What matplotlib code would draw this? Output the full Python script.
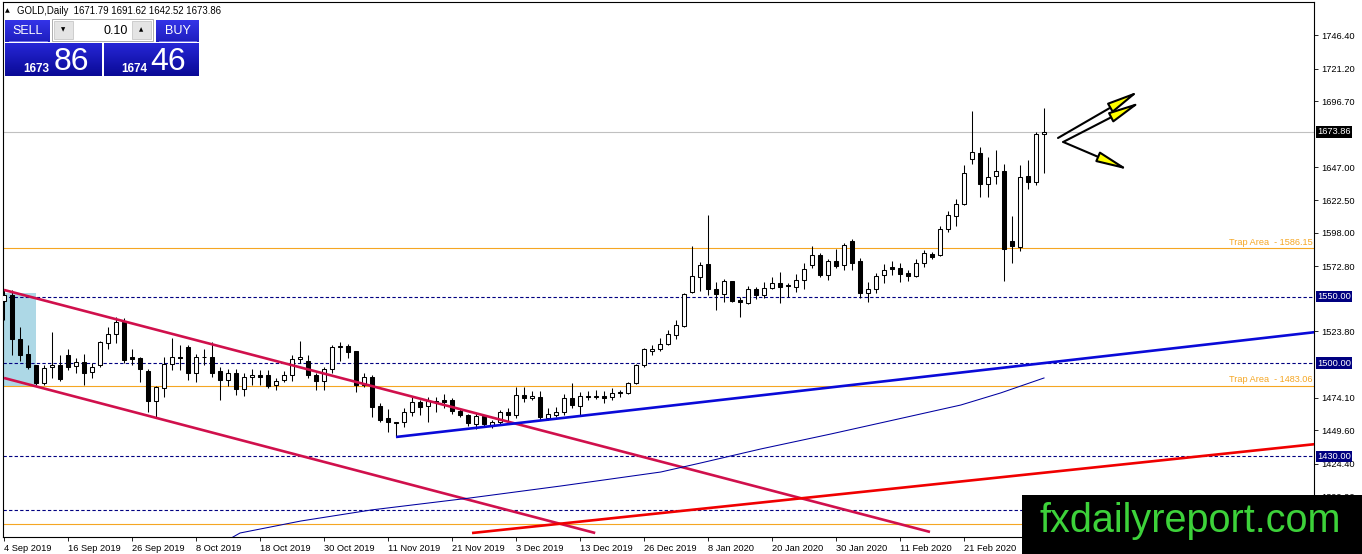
import numpy as np
import matplotlib
matplotlib.use('Agg')
import matplotlib.pyplot as plt
from matplotlib.patches import Rectangle, FancyArrowPatch
from matplotlib.colors import LinearSegmentedColormap
from matplotlib.transforms import blended_transform_factory

plt.rcParams['font.family'] = ['Liberation Sans', 'DejaVu Sans']

# velas diarias GOLD, 4 Sep 2019 - 6 Mar 2020 (una por indice)
opens = [1546.5, 1551, 1518, 1507, 1498.5, 1485, 1497, 1498.5, 1506, 1498,
         1501, 1493.5, 1498.5, 1515.5, 1522, 1531, 1504.5, 1504, 1494, 1471.5,
         1481.5, 1499.5, 1505, 1512, 1493, 1505, 1505, 1494, 1487.5, 1492.5,
         1480.5, 1489.5, 1491, 1491, 1483.5, 1487.5, 1491, 1503.5, 1502, 1491,
         1486.5, 1495.5, 1512.5, 1513, 1509, 1483.5, 1489.5, 1468, 1459, 1455.5,
         1455.5, 1463, 1471, 1467.5, 1471.5, 1472, 1472.5, 1464, 1461, 1454,
         1460, 1453, 1456, 1463.5, 1461, 1476, 1474, 1474.5, 1459, 1461,
         1463.5, 1474, 1468, 1475, 1474.5, 1475, 1474.5, 1478, 1477.5, 1485.5,
         1498.5, 1509.5, 1510.5, 1514.5, 1521, 1528, 1553.5, 1565, 1574.5, 1555.7,
         1552, 1561.5, 1547.5, 1545.5, 1555.5, 1551, 1556.5, 1560, 1558.5, 1557,
         1562.5, 1573.5, 1581.5, 1566.5, 1577, 1574, 1592, 1577, 1552.5, 1555.5,
         1566, 1572, 1571.5, 1568, 1565.5, 1575.5, 1582, 1581.5, 1600.5, 1610.5,
         1619.5, 1653, 1658, 1634.5, 1640.5, 1644.5, 1591.5, 1587.2, 1640.5, 1636,
         1671.79]
highs = [1556, 1555, 1527, 1514, 1499, 1498.5, 1523.5, 1506, 1511, 1504,
         1507, 1500, 1517, 1527, 1534.5, 1534, 1511, 1505, 1496, 1483,
         1505, 1519, 1514, 1514, 1507, 1510.5, 1516, 1497, 1496, 1496,
         1493, 1496, 1495, 1495, 1489, 1494, 1506, 1517, 1506, 1493,
         1497, 1514, 1516, 1514.5, 1509.5, 1493, 1491, 1470, 1465.5, 1456,
         1466.5, 1474.5, 1472.5, 1474.5, 1474.5, 1477, 1474, 1466, 1462, 1462.5,
         1461, 1457, 1465, 1466.5, 1482, 1482, 1479, 1479, 1466, 1467,
         1477, 1485.5, 1478, 1479, 1480, 1479, 1481, 1480, 1486, 1499.5,
         1511.5, 1513.5, 1519, 1525, 1532.5, 1553, 1588, 1576, 1611.3, 1561,
         1563, 1562, 1549.5, 1558, 1557.5, 1561, 1565, 1568.5, 1560, 1567,
         1575, 1588, 1582.5, 1578, 1585.5, 1590, 1593, 1579, 1561, 1568,
         1574.5, 1576.5, 1575, 1570, 1578, 1585, 1583.5, 1603, 1614, 1623,
         1649, 1689.3, 1662, 1655, 1660, 1649.5, 1610.8, 1648.8, 1652.6, 1673.6,
         1691.62]
lows = [1532.5, 1506, 1501.5, 1495.5, 1484, 1483.5, 1489, 1487, 1495, 1492.5,
        1483.5, 1489, 1497, 1511, 1515, 1500, 1499, 1486, 1463, 1459.5,
        1474.5, 1495, 1495, 1487.5, 1486, 1498.5, 1489.5, 1472.5, 1483, 1476,
        1475.5, 1483.5, 1484, 1481, 1480, 1486, 1487, 1500, 1489, 1480,
        1480, 1493, 1502, 1504, 1478.5, 1482, 1459.5, 1456, 1448, 1444.6,
        1452, 1460, 1461, 1456, 1463.5, 1466, 1462, 1459.5, 1453, 1450.5,
        1453, 1451.5, 1454.5, 1455, 1459, 1471, 1472.5, 1457.5, 1457.5, 1459.5,
        1461, 1466.5, 1461, 1472, 1473, 1470, 1472, 1474.5, 1477, 1484.5,
        1497.5, 1506, 1509.5, 1513.5, 1518, 1527.5, 1552.5, 1554, 1551, 1540,
        1546, 1546, 1535, 1544.5, 1548.5, 1549, 1555.5, 1545.5, 1550, 1553.5,
        1556, 1571.5, 1564.5, 1562.5, 1571.5, 1570, 1570, 1549, 1546, 1553,
        1560, 1566, 1561, 1562, 1565, 1572, 1578, 1580.5, 1598.5, 1603,
        1619, 1649.5, 1625, 1625, 1634.5, 1561.7, 1575.4, 1584.2, 1630.8, 1633.8,
        1642.52]
closes = [1551, 1518, 1506, 1497.5, 1485, 1496.5, 1499, 1488, 1497.5, 1501,
          1493, 1497, 1516, 1522, 1531, 1502.5, 1503.5, 1495.5, 1471.5, 1482,
          1499.5, 1504.5, 1504, 1493, 1505, 1504.5, 1493, 1487.5, 1492.5, 1480.5,
          1489.5, 1491, 1489.5, 1483, 1486.5, 1491, 1503, 1504.5, 1491, 1486.5,
          1495.5, 1512.5, 1513, 1508.5, 1483.5, 1489.5, 1467, 1457.5, 1455.5, 1455,
          1463, 1471, 1467, 1471.5, 1471, 1470.5, 1464, 1461, 1455, 1460,
          1454, 1455.5, 1463, 1461, 1476, 1474, 1475.5, 1459.5, 1461.5, 1463.5,
          1474, 1468.5, 1475, 1474.5, 1475, 1474, 1477.5, 1477.5, 1485.5, 1498.5,
          1510.5, 1511, 1514.5, 1522, 1528.5, 1552, 1565.5, 1574, 1555.7, 1552,
          1561.5, 1546.7, 1546, 1555.5, 1551.5, 1556.5, 1560, 1557, 1558, 1562.5,
          1570.5, 1581.5, 1566.5, 1577, 1573, 1589, 1575.5, 1552.5, 1555.5, 1565.5,
          1570, 1571, 1567, 1565.5, 1575.5, 1583, 1579.5, 1600.5, 1611, 1619.5,
          1643, 1658.5, 1634.5, 1640, 1644.5, 1585.7, 1588, 1640, 1636, 1672,
          1673.86]

etiquetas_x = ['4 Sep 2019', '16 Sep 2019', '26 Sep 2019', '8 Oct 2019', '18 Oct 2019',
               '30 Oct 2019', '11 Nov 2019', '21 Nov 2019', '3 Dec 2019', '13 Dec 2019',
               '26 Dec 2019', '8 Jan 2020', '20 Jan 2020', '30 Jan 2020', '11 Feb 2020',
               '21 Feb 2020', '4 Mar 2020']
ticks_y = [1746.40, 1721.20, 1696.70, 1647.00, 1622.50, 1598.00, 1572.80,
           1523.80, 1474.10, 1449.60, 1424.40, 1399.90]

# lineas horizontales del grafico
precio_bid = 1673.86
niveles_punteados = [1550.00, 1500.00, 1430.00, 1390.00]
trap_areas = [1586.15, 1483.06, 1379.30]

# objetos dibujados (indice de vela, precio)
canal_sup_x, canal_sup_y = [0, 115.75], [1555.0, 1373.3]
canal_inf_x, canal_inf_y = [0, 73.9], [1488.9, 1372.5]
soporte_x, soporte_y = [49, 164], [1444.6, 1523.4]
roja_x, roja_y = [58.5, 164], [1372.5, 1439.3]
media_x = [27.75, 29.5, 37.1, 45.9, 58.25, 69.6, 82.1, 87.1, 94.6, 103.4, 111.25, 119.6, 124.6, 130]
media_y = [1366.5, 1372.5, 1381.5, 1389.8, 1398.8, 1407.8, 1418.3, 1425.1, 1435.6, 1446.9,
           1457.4, 1468.6, 1477.7, 1488.9]
rect_x, rect_y = [-0.5, 4], [1483.06, 1553.0]
flechas_ini = [(131.75, 1669.1), (132.4, 1666.1), (132.4, 1666.1)]
flechas_fin = [(141.9, 1704.4), (142.1, 1696.1), (140.6, 1645.1)]

W, H = 1362, 554
fig = plt.figure(figsize=(W / 100, H / 100), dpi=100)
fig.patch.set_facecolor('white')


def fx(px):
    return px / W


def fy(py):
    return 1 - py / H


ax = fig.add_axes([fx(2.5), fy(537), fx(1314) - fx(2.5), fy(2) - fy(537)])
ax.set_xlim(-0.19, 163.75)
ax.set_ylim(1369.5, 1771.2)
for s in ax.spines.values():
    s.set_color('black')
    s.set_linewidth(0.8)

# rectangulo celeste
ax.add_patch(Rectangle((rect_x[0], rect_y[0]), rect_x[1] - rect_x[0], rect_y[1] - rect_y[0],
                       facecolor='#ADD8E6', edgecolor='none', zorder=1))

# velas
idx = np.arange(len(opens))
o = np.array(opens)
c = np.array(closes)
ax.vlines(idx, lows, highs, color='black', lw=0.75, zorder=3)
subida = c >= o
ax.bar(idx, np.abs(c - o), bottom=np.minimum(o, c), width=0.62,
       color=np.where(subida, 'white', 'black'), edgecolor='black', linewidth=0.75, zorder=3.2)

# lineas horizontales
ax.axhline(precio_bid, color='#C0C0C0', lw=0.8, zorder=2)
for nv in niveles_punteados:
    ax.axhline(nv, color='#000080', lw=0.8, ls=(0, (3, 2)), zorder=2)
for ta in trap_areas:
    ax.axhline(ta, color='#F5A623', lw=0.8, zorder=2)
# la tercera etiqueta queda tapada por la marca de agua
for ta in trap_areas[:2]:
    ax.text(163.6, ta + 1.2, 'Trap Area  - %.2f' % ta, color='#F5A623', fontsize=6.6,
            ha='right', va='bottom', zorder=2)

# lineas de tendencia
ax.plot(canal_sup_x, canal_sup_y, color='#D0104C', lw=1.9, zorder=4, solid_capstyle='butt')
ax.plot(canal_inf_x, canal_inf_y, color='#D0104C', lw=1.9, zorder=4, solid_capstyle='butt')
ax.plot(soporte_x, soporte_y, color='#0A0AD8', lw=1.9, zorder=4, solid_capstyle='butt')
ax.plot(roja_x, roja_y, color='#F00000', lw=1.9, zorder=4, solid_capstyle='butt')
ax.plot(media_x, media_y, color='#0000A0', lw=0.75, zorder=4)

for a, b in zip(flechas_ini, flechas_fin):
    ax.add_patch(FancyArrowPatch(a, b, arrowstyle='-|>,head_length=1.3,head_width=0.22',
                                 mutation_scale=15, lw=1.5, ec='black', fc='#FFFF00',
                                 shrinkA=0, shrinkB=0, zorder=6))

# ejes
ax.yaxis.tick_right()
ax.set_yticks(ticks_y)
ax.set_yticklabels(['%.2f' % t for t in ticks_y])
ax.set_xticks(np.arange(0, 8 * len(etiquetas_x), 8))
ax.set_xticklabels(etiquetas_x)
for lbl in ax.get_xticklabels():
    lbl.set_ha('left')
ax.tick_params(axis='both', direction='out', length=3, width=0.6, labelsize=6.7, pad=2,
               colors='black')

# etiquetas de precio en el eje
trans = blended_transform_factory(fig.transFigure, ax.transData)
ax.text(fx(1317), precio_bid, '%.2f' % precio_bid, transform=trans, color='white', fontsize=6.7,
        ha='left', va='center', clip_on=False, zorder=7,
        bbox=dict(boxstyle='square,pad=0.15', fc='black', ec='none'))
for nv in niveles_punteados[:3]:
    ax.text(fx(1317), nv, '%.2f' % nv, transform=trans, color='white', fontsize=6.7,
            ha='left', va='center', clip_on=False, zorder=7,
            bbox=dict(boxstyle='square,pad=0.15', fc='#000080', ec='none'))

# cabecera
fig.text(fx(5), fy(11), '\u25b2', fontsize=4.5, va='center', ha='left', family='DejaVu Sans')
fig.text(fx(17), fy(11), 'GOLD,Daily  %.2f %.2f %.2f %.2f' % (opens[-1], highs[-1], lows[-1], closes[-1]),
         fontsize=6.9, va='center', ha='left')


def caja_grad(x0, y0, x1, y1, c_top, c_bot):
    a = fig.add_axes([fx(x0), fy(y1), fx(x1) - fx(x0), fy(y0) - fy(y1)], zorder=5)
    cm = LinearSegmentedColormap.from_list('g', [c_top, c_bot])
    a.imshow(np.linspace(0, 1, 40).reshape(-1, 1), aspect='auto', cmap=cm, extent=(0, 1, 0, 1))
    a.set_axis_off()


def caja(x0, y0, x1, y1, fc, ec):
    fig.add_artist(Rectangle((fx(x0), fy(y1)), fx(x1) - fx(x0), fy(y0) - fy(y1),
                             transform=fig.transFigure, fc=fc, ec=ec, lw=0.6, zorder=6))


caja_grad(5, 20, 50, 42, '#3434E8', '#1E1EBE')
caja_grad(156, 20, 199, 42, '#3434E8', '#1E1EBE')
caja_grad(5, 43, 102, 76, '#2626D6', '#0A0A96')
caja_grad(104, 43, 199, 76, '#2626D6', '#0A0A96')
caja(52, 19, 153, 41, 'white', '#A0A0A0')
caja(54, 21, 73, 39, '#E4E4E4', '#C8C8C8')
caja(132, 21, 151, 39, '#E4E4E4', '#C8C8C8')
fig.add_artist(plt.Line2D([fx(9), fx(47)], [fy(41), fy(41)], color='#8080F0', lw=0.6, zorder=7))
fig.add_artist(plt.Line2D([fx(159), fx(196)], [fy(41), fy(41)], color='#8080F0', lw=0.6, zorder=7))

fig.text(fx(27.5), fy(31), 'SELL', color='white', fontsize=9, ha='center', va='center', zorder=8)
fig.text(fx(177.5), fy(31), 'BUY', color='white', fontsize=9, ha='center', va='center', zorder=8)
fig.text(fx(63.5), fy(30), '\u25bc', fontsize=4, ha='center', va='center', zorder=8, family='DejaVu Sans')
fig.text(fx(141.5), fy(30), '\u25b2', fontsize=4, ha='center', va='center', zorder=8, family='DejaVu Sans')
fig.text(fx(128), fy(30.5), '0.10', fontsize=9, ha='right', va='center', zorder=8)
fig.text(fx(23), fy(72), '1673', color='white', fontsize=8.5, fontweight='bold', ha='left',
         va='baseline', zorder=8)
fig.text(fx(54), fy(70), '86', color='white', fontsize=23, ha='left', va='baseline', zorder=8)
fig.text(fx(121), fy(72), '1674', color='white', fontsize=8.5, fontweight='bold', ha='left',
         va='baseline', zorder=8)
fig.text(fx(150), fy(70), '46', color='white', fontsize=23, ha='left', va='baseline', zorder=8)

# marca de agua
fig.add_artist(Rectangle((fx(1022), fy(554)), fx(1362) - fx(1022), fy(495) - fy(554),
                         transform=fig.transFigure, fc='black', ec='none', zorder=10))
fig.text(fx(1190), fy(532), 'fxdailyreport.com', color='#3DD23A', fontsize=28.5,
         ha='center', va='baseline', zorder=11)

fig.savefig('out.png', dpi=100)
